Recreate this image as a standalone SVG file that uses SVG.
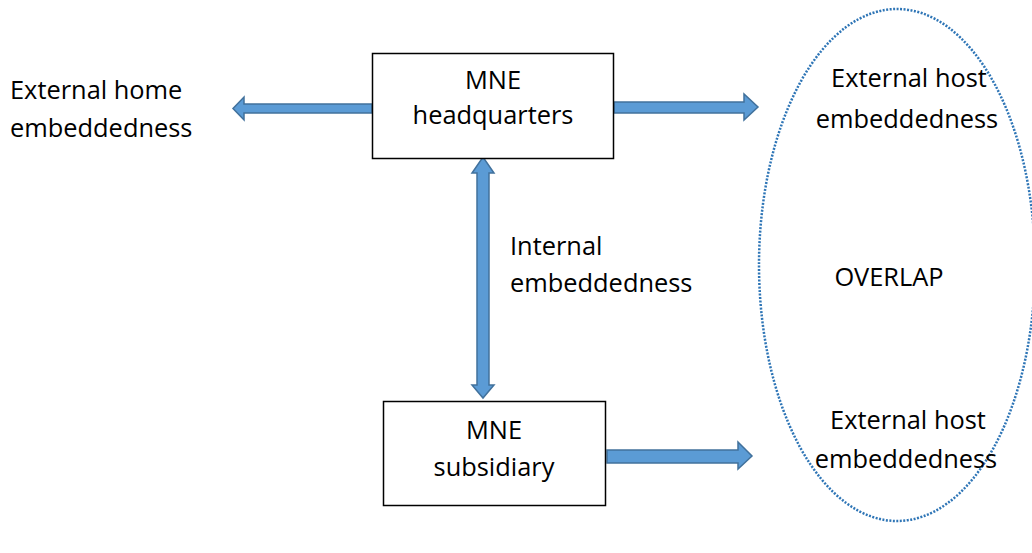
<svg xmlns="http://www.w3.org/2000/svg" width="1032" height="553" viewBox="0 0 1032 553">
<style>
.t{font-family:"Open Sans","Liberation Sans",sans-serif;font-size:25.4px;fill:#000}
.c{text-anchor:middle}
.box{fill:#fff;stroke:#000;stroke-width:1.5}
.arr{fill:#5B9BD5;stroke:#41719C;stroke-width:1.5;stroke-linejoin:miter}
</style>
<rect width="1032" height="553" fill="#fff"/>
<g id="overlap">
<ellipse cx="897" cy="265" rx="138" ry="256" fill="none" stroke="#2E75B6" stroke-width="2.5" stroke-dasharray="2 1.5"/>
<text class="t c" x="889" y="286">OVERLAP</text>
</g>
<g id="connectors">
<polygon class="arr" points="372,104 244,104 244,97 233,108.5 244,120 244,113 372,113"/>
<polygon class="arr" points="614,102 744,102 744,94 758,107 744,120 744,113 614,113"/>
<polygon class="arr" points="477,173 472,173 483,157 494,173 489,173 489,385 494,385 483,398 472,385 477,385"/>
<polygon class="arr" points="607,450 738,450 738,442 752,456 738,469 738,463 607,463"/>
</g>
<g id="home">
<text class="t" x="10" y="99">External home</text>
<text class="t" x="10" y="137">embeddedness</text>
</g>
<g id="hq">
<rect class="box" x="372.5" y="53.5" width="241" height="105"/>
<text class="t c" x="493" y="89">MNE</text>
<text class="t c" x="493" y="124">headquarters</text>
</g>
<g id="internal">
<text class="t" x="510" y="255">Internal</text>
<text class="t" x="510" y="292">embeddedness</text>
</g>
<g id="sub">
<rect class="box" x="383.5" y="401.5" width="222" height="104"/>
<text class="t c" x="494" y="439">MNE</text>
<text class="t c" x="494" y="476">subsidiary</text>
</g>
<g id="host1">
<text class="t c" x="909" y="87">External host</text>
<text class="t c" x="907" y="128">embeddedness</text>
</g>
<g id="host2">
<text class="t c" x="908" y="429">External host</text>
<text class="t c" x="906" y="468">embeddedness</text>
</g>
</svg>
